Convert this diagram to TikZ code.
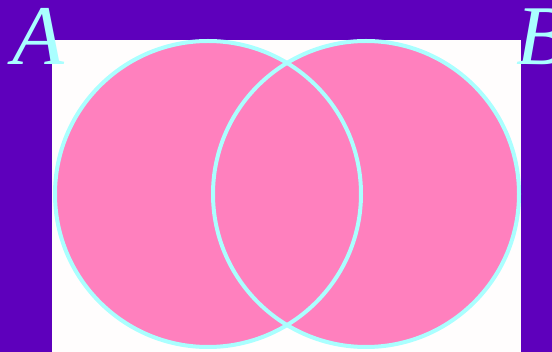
\documentclass[tikz,border=0pt]{standalone}
\usepackage{fontspec}
\setmainfont{Liberation Serif}
\definecolor{bgpurple}{RGB}{94,0,188}
\definecolor{vpink}{RGB}{255,128,190}
\definecolor{vcyan}{RGB}{170,255,255}
\definecolor{paper}{RGB}{255,253,253}
\tikzset{
  setfill/.style={fill=vpink},
  setline/.style={draw=vcyan, line width=4pt},
  setlabel/.style={text=vcyan, font=\fontsize{85}{85}\selectfont\itshape, inner sep=0pt, anchor=base west}
}
\begin{document}
\begin{tikzpicture}[x=1pt,y=-1pt]
\useasboundingbox (0,0) rectangle (552,352);
\fill[bgpurple] (0,0) rectangle (552,352);
\fill[paper] (52,40) rectangle (521,352);
\coordinate (cA) at (208,194);
\coordinate (cB) at (366,194);
\fill[setfill] (cA) circle[radius=153];
\fill[setfill] (cB) circle[radius=153];
\draw[setline] (cA) circle[radius=153];
\draw[setline] (cB) circle[radius=153];
\node[setlabel] (labA) at (12,65) {A};
\node[setlabel] (labB) at (516,65) {B};
\end{tikzpicture}
\end{document}
